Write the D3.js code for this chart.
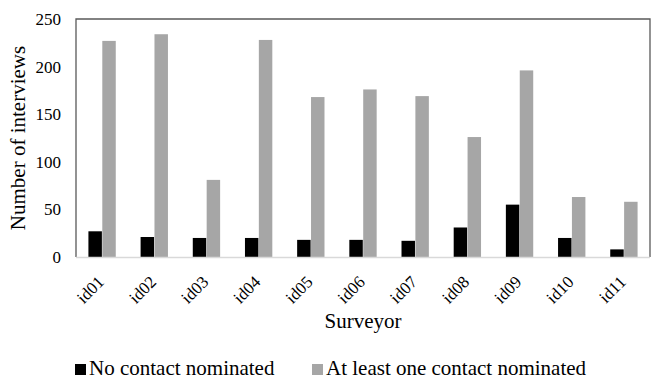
<!DOCTYPE html>
<html>
<head>
<meta charset="utf-8">
<script src="https://cdn.jsdelivr.net/npm/d3@7"></script>
<style>
  html, body { margin: 0; padding: 0; background: #fff; }
</style>
</head>
<body>
<svg id="chart" width="651" height="380" font-family="Liberation Serif, Times New Roman, serif"></svg>
<script>
// Interviews per surveyor, split by whether any contact was nominated
const surveyors = ["id01", "id02", "id03", "id04", "id05", "id06", "id07", "id08", "id09", "id10", "id11"];
const noContact = [27, 21, 20, 20, 18, 18, 17, 31, 55, 20, 8];
const atLeastOne = [227, 234, 81, 228, 168, 176, 169, 126, 196, 63, 58];
const seriesNames = ["No contact nominated", "At least one contact nominated"];
const seriesColors = ["#000000", "#a6a6a6"];
const yTicks = [0, 50, 100, 150, 200, 250];

const FONT = "Liberation Serif";
const svg = d3.select("#chart");
const margin = { left: 76, right: 1, top: 19, bottom: 123 };
const W = 651, H = 380;
const plotW = W - margin.left - margin.right;
const plotH = H - margin.top - margin.bottom;

const rows = surveyors.map((s, i) => ({ s, vals: [noContact[i], atLeastOne[i]] }));

const x = d3.scaleBand().domain(surveyors).range([0, plotW]).paddingInner(0.46).paddingOuter(0.23);
const xs = d3.scaleBand().domain([0, 1]).range([0, x.bandwidth()]).padding(0.03);
const y = d3.scaleLinear().domain([0, 250]).range([plotH, 0]);

const g = svg.append("g").attr("transform", `translate(${margin.left},${margin.top})`);

// Bars
g.selectAll("g.grp").data(rows).join("g")
  .attr("class", "grp")
  .attr("transform", d => `translate(${x(d.s)},0)`)
  .selectAll("rect").data(d => d.vals.map((v, k) => ({ v, k }))).join("rect")
  .attr("x", d => xs(d.k))
  .attr("width", xs.bandwidth())
  .attr("y", d => y(d.v))
  .attr("height", d => y(0) - y(d.v))
  .attr("fill", d => seriesColors[d.k]);

// Plot frame: dark top/left/right, light baseline
g.append("path")
  .attr("d", `M0,${plotH} V0 H${plotW} V${plotH}`)
  .attr("fill", "none").attr("stroke", "#595959").attr("stroke-width", 1.3);
g.append("line")
  .attr("x1", 0).attr("x2", plotW).attr("y1", plotH + 0.5).attr("y2", plotH + 0.5)
  .attr("stroke", "#d9d9d9").attr("stroke-width", 1.5);

// Y axis labels
const yAxis = d3.axisLeft(y).tickValues(yTicks).tickSize(0).tickPadding(15);
const ya = g.append("g").call(yAxis).attr("font-family", FONT).attr("font-size", 17);
ya.select(".domain").remove();
ya.selectAll("text").attr("fill", "#000");

// X axis labels, rotated
const xAxis = d3.axisBottom(x).tickSize(0).tickPadding(0);
const xa = g.append("g").attr("transform", `translate(0,${plotH})`).call(xAxis)
  .attr("font-family", FONT).attr("font-size", 17);
xa.select(".domain").remove();
xa.selectAll("text")
  .attr("fill", "#000")
  .attr("text-anchor", "end")
  .attr("dy", null).attr("y", 0)
  .attr("transform", "translate(3,26) rotate(-45)");

// Axis titles
svg.append("text")
  .attr("transform", `translate(25,${margin.top + plotH / 2}) rotate(-90)`)
  .attr("text-anchor", "middle")
  .attr("font-family", FONT)
  .attr("font-size", 21)
  .text("Number of interviews");
svg.append("text")
  .attr("x", margin.left + plotW / 2).attr("y", 328)
  .attr("text-anchor", "middle")
  .attr("font-family", FONT)
  .attr("font-size", 21)
  .text("Surveyor");

// Legend
const legendX = [75, 312];
const lg = svg.selectAll("g.leg").data(seriesNames).join("g")
  .attr("class", "leg")
  .attr("transform", (d, i) => `translate(${legendX[i]},364)`);
lg.append("rect").attr("width", 11).attr("height", 11).attr("fill", (d, i) => seriesColors[i]);
lg.append("text").attr("x", 14).attr("y", 11).attr("font-family", FONT).attr("font-size", 21).text(d => d);
</script>
</body>
</html>
